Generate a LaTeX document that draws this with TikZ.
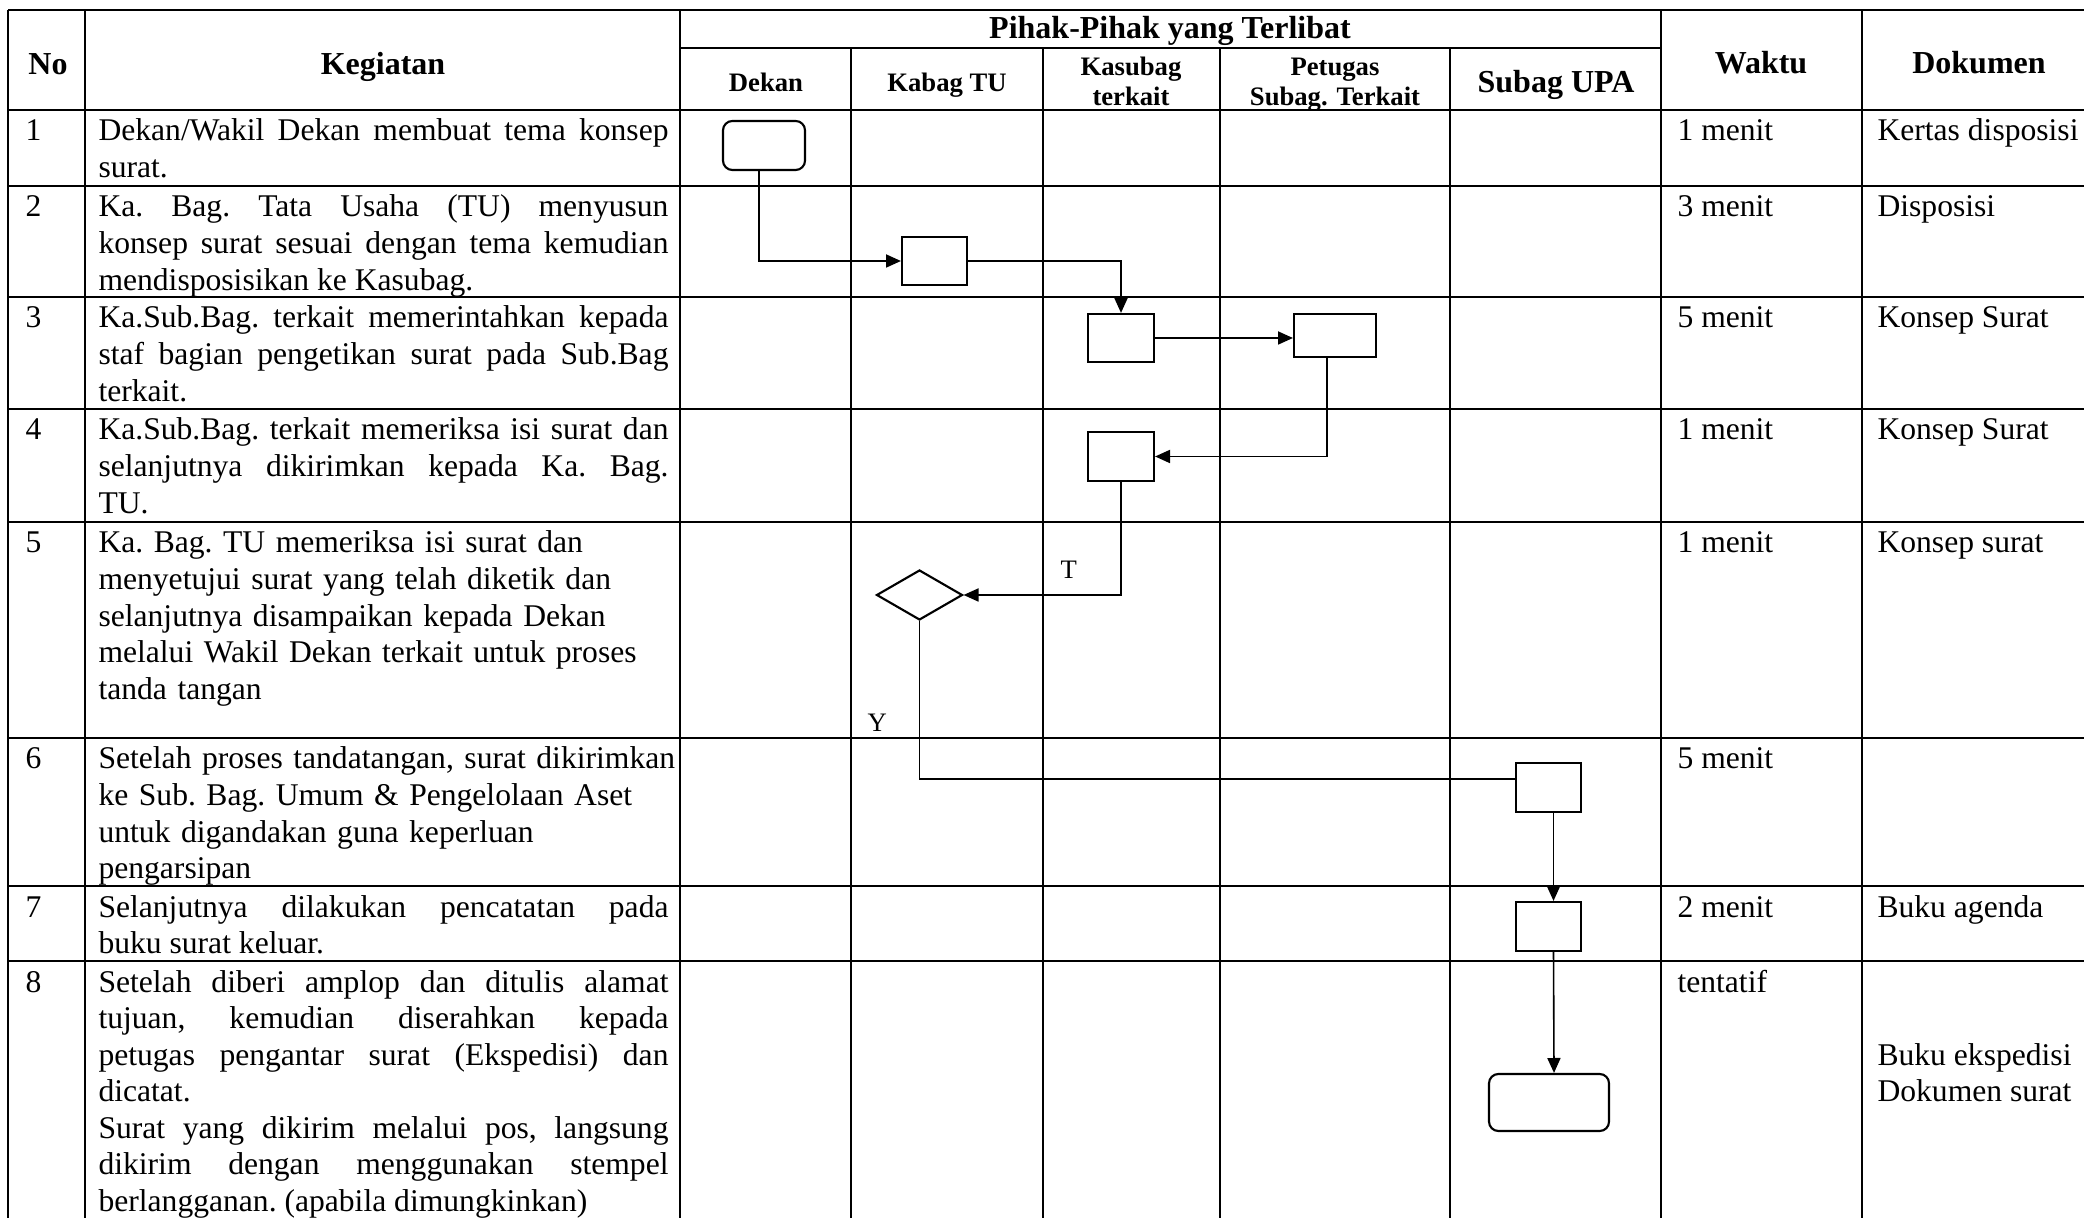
\documentclass[tikz,border=0pt]{standalone}
\usepackage{fontspec}
\setmainfont{Liberation Serif}
\usetikzlibrary{arrows.meta,shapes.geometric}
\newcommand\pxu{0.375pt}
\tolerance=10000
\emergencystretch=20pt
\begin{document}
\begin{tikzpicture}[x=0.375pt,y=-0.375pt,
  tbl/.style={line width=1.1pt},
  body/.style={font=\fontsize{11.85}{13.7}\selectfont\frenchspacing, inner sep=0pt, anchor=base west},
  kg/.style={body, text width=213.75pt, align=justify},
  kgr/.style={body, text width=225pt, align=left},
  hd/.style={font=\bfseries\fontsize{12}{13.5}\selectfont, inner sep=0pt, anchor=base},
  hds/.style={font=\bfseries\fontsize{10}{10}\selectfont, inner sep=0pt, anchor=base},
  lbl/.style={font=\fontsize{10}{10}\selectfont, inner sep=0pt, anchor=base west},
  proc/.style={draw, rectangle, line width=0.8pt, inner sep=0pt},
  term/.style={proc, rounded corners=3.5pt},
  dec/.style={draw, diamond, line width=0.8pt, inner sep=0pt},
  flow/.style={line width=0.6pt, -{Triangle[length=5.6pt,width=4.9pt]}},
  link/.style={line width=0.6pt}]
\useasboundingbox (0,0) rectangle (2084,1218);

% table grid
\draw[tbl] (8,10) -- (2084,10);
\draw[tbl] (680,48) -- (1661,48);
\foreach \yy in {110,186,297,409,522,738,886,961} \draw[tbl] (8,\yy) -- (2084,\yy);
\foreach \xx in {8,85,680,1661,1862} \draw[tbl] (\xx,10) -- (\xx,1218);
\foreach \xx in {851,1043,1220,1450} \draw[tbl] (\xx,48) -- (\xx,1218);

% header
\node[hd] (hNo) at (48,75) {No};
\node[hd] (hKeg) at (383,75) {Kegiatan};
\node[hd] (hPihak) at (1170,38.5) {Pihak-Pihak yang Terlibat};
\node[hds] (hDekan) at (766,92) {Dekan};
\node[hds] (hKabag) at (947,92) {Kabag TU};
\node[hds] (hKasA) at (1131,76) {Kasubag};
\node[hds] (hKasB) at (1131,106) {terkait};
\node[hds] (hPetA) at (1335,76) {Petugas};
\node[hds] (hPetB) at (1335,106) {Subag. Terkait};
\node[hd] (hSubag) at (1556,93) {Subag UPA};
\node[hd] (hWaktu) at (1761,74) {Waktu};
\node[hd] (hDok) at (1979,74) {Dokumen};

% row 1
\node[body] (n1) at (25,141) {1};
\node[kg] (k1) at (98,141) {Dekan/Wakil Dekan membuat tema konsep\linebreak surat.};
\node[body] (w1) at (1677,141) {1 menit};
\node[body] (d1) at (1877,141) {Kertas disposisi};
% row 2
\node[body] (n2) at (25,217) {2};
\node[kg] (k2) at (98,217) {Ka. Bag. Tata Usaha (TU) menyusun\linebreak konsep surat sesuai dengan tema kemudian\linebreak mendisposisikan ke Kasubag.};
\node[body] (w2) at (1677,217) {3 menit};
\node[body] (d2) at (1877,217) {Disposisi};
% row 3
\node[body] (n3) at (25,328) {3};
\node[kg] (k3) at (98,328) {Ka.Sub.Bag. terkait memerintahkan kepada\linebreak staf bagian pengetikan surat pada Sub.Bag\linebreak terkait.};
\node[body] (w3) at (1677,328) {5 menit};
\node[body] (d3) at (1877,328) {Konsep Surat};
% row 4
\node[body] (n4) at (25,440) {4};
\node[kg] (k4) at (98,440) {Ka.Sub.Bag. terkait memeriksa isi surat dan\linebreak selanjutnya dikirimkan kepada Ka. Bag.\linebreak TU.};
\node[body] (w4) at (1677,440) {1 menit};
\node[body] (d4) at (1877,440) {Konsep Surat};
% row 5
\node[body] (n5) at (25,553) {5};
\node[kgr] (k5) at (98,553) {Ka. Bag. TU memeriksa isi surat dan\\ menyetujui surat yang telah diketik dan\\ selanjutnya disampaikan kepada Dekan\\ melalui Wakil Dekan terkait untuk proses\\ tanda tangan};
\node[body] (w5) at (1677,553) {1 menit};
\node[body] (d5) at (1877,553) {Konsep surat};
% row 6
\node[body] (n6) at (25,769) {6};
\node[kgr] (k6) at (98,769) {Setelah proses tandatangan, surat dikirimkan\\ ke Sub. Bag. Umum \& Pengelolaan Aset\\ untuk digandakan guna keperluan\\ pengarsipan};
\node[body] (w6) at (1677,769) {5 menit};
% row 7
\node[body] (n7) at (25,917) {7};
\node[kg] (k7) at (98,917) {Selanjutnya dilakukan pencatatan pada\linebreak buku surat keluar.};
\node[body] (w7) at (1677,917) {2 menit};
\node[body] (d7) at (1877,917) {Buku agenda};
% row 8
\node[body] (n8) at (25,992) {8};
\node[kg] (k8) at (98,992) {Setelah diberi amplop dan ditulis alamat\linebreak tujuan, kemudian diserahkan kepada\linebreak petugas pengantar surat (Ekspedisi) dan\linebreak dicatat.\par Surat yang dikirim melalui pos, langsung\linebreak dikirim dengan menggunakan stempel\linebreak berlangganan. (apabila dimungkinkan)};
\node[body] (w8) at (1677,992) {tentatif};
\node[body] (d8a) at (1877,1065) {Buku ekspedisi};
\node[body] (d8b) at (1877,1101.5) {Dokumen surat};

% flowchart shapes
\node[term, minimum width=82*\pxu, minimum height=49*\pxu] (A) at (764,145.5) {};
\node[proc, minimum width=65*\pxu, minimum height=48*\pxu] (B) at (934.5,261) {};
\node[proc, minimum width=66*\pxu, minimum height=48*\pxu] (C) at (1121,338) {};
\node[proc, minimum width=82*\pxu, minimum height=43*\pxu] (D) at (1335,335.5) {};
\node[proc, minimum width=66*\pxu, minimum height=49*\pxu] (E) at (1121,456.5) {};
\node[dec, minimum width=86*\pxu, minimum height=50*\pxu] (F) at (919.5,595) {};
\node[proc, minimum width=65*\pxu, minimum height=49*\pxu] (G) at (1548.5,787.5) {};
\node[proc, minimum width=65*\pxu, minimum height=49*\pxu] (H) at (1548.5,926.5) {};
\node[term, minimum width=120*\pxu, minimum height=57*\pxu] (I) at (1549,1102.5) {};

\node[lbl] (lT) at (1060,579) {T};
\node[lbl] (lY) at (867,732) {Y};

% connectors
\draw[flow] ([xshift=-5*\pxu]A.south) |- (B.west);
\draw[flow] (B.east) -| (C.north);
\draw[flow] (C.east) -- (C.east -| D.west);
\draw[flow] ([xshift=-8*\pxu]D.south) |- (E.east);
\draw[flow] (E.south) |- (F.east);
\draw[link] (F.south) |- ([yshift=8.5*\pxu]G.west);
\draw[flow] ([xshift=5*\pxu]G.south) -- ([xshift=5*\pxu]H.north);
\draw[flow] ([xshift=5*\pxu]H.south) -- ([xshift=5*\pxu]I.north);
\end{tikzpicture}
\end{document}
